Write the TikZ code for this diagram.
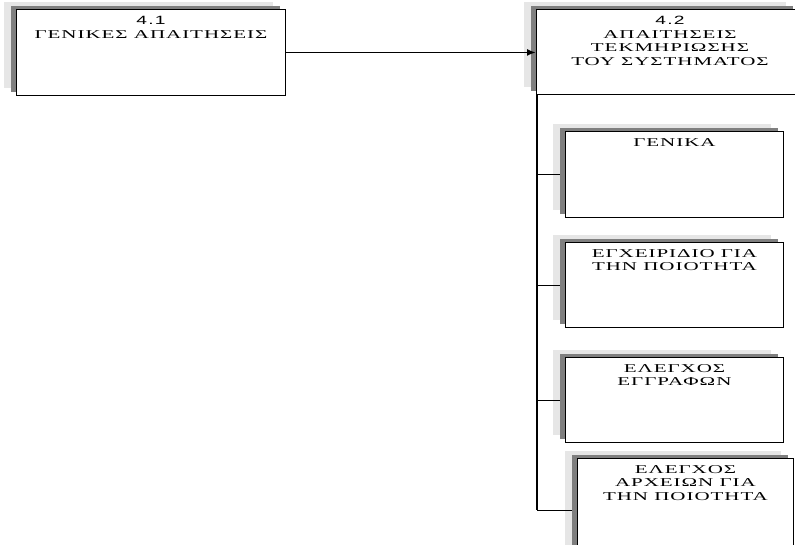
\documentclass[tikz,border=0pt]{standalone}
\usepackage{fontspec}
\setmainfont{Liberation Serif}[FakeStretch=1.75,LetterSpace=8]
\newfontfamily\numfont{Liberation Sans}[FakeStretch=1.6,LetterSpace=10]
\usetikzlibrary{shadows,arrows.meta}
\definecolor{shlight}{HTML}{E6E6E6}
\definecolor{shdark}{HTML}{7F7F7F}
\tikzset{
  box/.style={draw=black, line width=0.9pt, fill=white, rectangle, anchor=north west, inner sep=0pt,
    general shadow={fill=shlight, shadow xshift=-12pt, shadow yshift=7pt},
    general shadow={fill=shdark, shadow xshift=-5pt, shadow yshift=3pt}},
  txt/.style={anchor=north, inner sep=0pt, align=center, font=\fontsize{12}{13.6}\selectfont},
  conn/.style={draw=black, line width=0.9pt}
}
\begin{document}
\begin{tikzpicture}[x=1pt,y=-1pt]
\useasboundingbox (0,0) rectangle (795,544);
\begin{scope}
\clip (0,0) rectangle (795,544);
\node[box, minimum width=269pt, minimum height=86pt] (b41) at (16,9) {};
\node[box, minimum width=262pt, minimum height=85pt] (b42) at (536,9) {};
\node[box, minimum width=218pt, minimum height=86pt] (c1) at (565,131) {};
\node[box, minimum width=218pt, minimum height=85pt] (c2) at (565,242) {};
\node[box, minimum width=218pt, minimum height=85pt] (c3) at (565,357) {};
\node[box, minimum width=216pt, minimum height=104pt] (c4) at (577,458) {};

\node[txt] (t41) at ([yshift=-7pt]b41.north) {{\numfont 4.1}\\ΓΕΝΙΚΕΣ ΑΠΑΙΤΗΣΕΙΣ};
\node[txt] (t42) at (670,16) {{\numfont 4.2}\\ΑΠΑΙΤΗΣΕΙΣ\\ΤΕΚΜΗΡΙΩΣΗΣ\\ΤΟΥ ΣΥΣΤΗΜΑΤΟΣ};
\node[txt] (tc1) at ([yshift=-7pt]c1.north) {ΓΕΝΙΚΑ};
\node[txt] (tc2) at ([yshift=-7pt]c2.north) {ΕΓΧΕΙΡΙΔΙΟ ΓΙΑ\\ΤΗΝ ΠΟΙΟΤΗΤΑ};
\node[txt] (tc3) at ([yshift=-7pt]c3.north) {ΕΛΕΓΧΟΣ\\ΕΓΓΡΑΦΩΝ};
\node[txt] (tc4) at ([yshift=-7pt]c4.north) {ΕΛΕΓΧΟΣ\\ΑΡΧΕΙΩΝ ΓΙΑ\\ΤΗΝ ΠΟΙΟΤΗΤΑ};

\draw[line width=1.8pt, -{Latex[length=9pt,width=7pt]}] (b41.east) -- (b41.east -| b42.west);
\coordinate (trunk) at ([xshift=1pt]b42.south west);
\draw[conn, line width=1.3pt] (trunk) -- (trunk |- c4.west);
\draw[conn] (trunk |- c1.west) -- ([xshift=-5pt]c1.west);
\draw[conn] (trunk |- c2.west) -- ([xshift=-5pt]c2.west);
\draw[conn] (trunk |- c3.west) -- ([xshift=-5pt]c3.west);
\draw[conn] (trunk |- c4.west) -- ([xshift=-5pt]c4.west);
\end{scope}
\end{tikzpicture}
\end{document}
